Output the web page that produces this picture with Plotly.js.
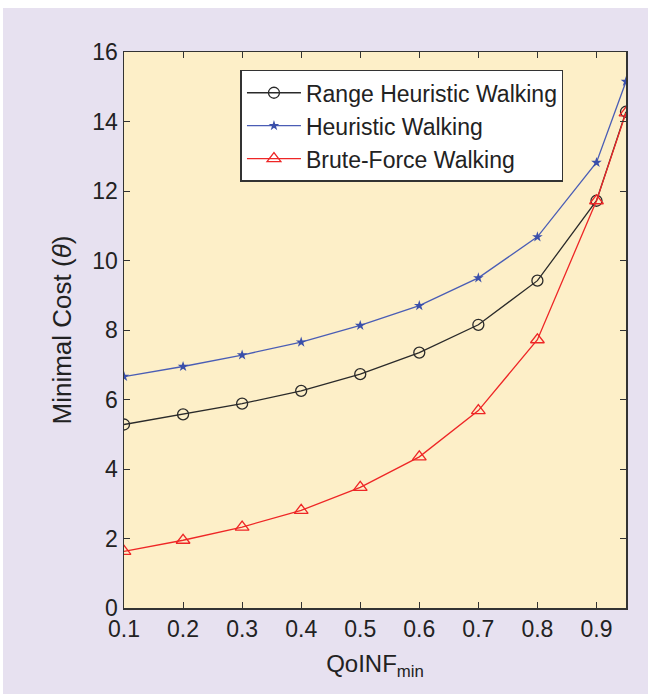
<!DOCTYPE html>
<html><head><meta charset="utf-8">
<script src="https://cdn.plot.ly/plotly-3.0.1.min.js"></script>
<style>
html,body{margin:0;padding:0;background:#ffffff;}
#bg{position:absolute;left:3px;top:8px;width:645px;height:686px;background:#E7E1F0;}
#chart{position:absolute;left:0;top:0;width:648px;height:694px;}
</style></head>
<body><div id="bg"></div><div id="chart"></div>
<script>
const qoinf = [0.1,0.2,0.3,0.4,0.5,0.6,0.7,0.8,0.9,0.95];
const rangeHeuristic = [5.28,5.57,5.88,6.25,6.73,7.35,8.15,9.42,11.72,14.28];
const heuristic = [6.66,6.95,7.28,7.65,8.13,8.70,9.50,10.68,12.82,15.15];
const bruteForce = [1.63,1.95,2.33,2.81,3.47,4.35,5.68,7.72,11.72,14.25];
const seriesNames = ['Range Heuristic Walking','Heuristic Walking','Brute-Force Walking'];
const xTicks = [0.1,0.2,0.3,0.4,0.5,0.6,0.7,0.8,0.9];
const yTicks = [0,2,4,6,8,10,12,14,16];

const traces = [
 {x:qoinf,y:rangeHeuristic,name:seriesNames[0],mode:'lines+markers',
  line:{color:'#2a2a2a',width:1.3},
  marker:{symbol:'circle-open',size:11,color:'#2a2a2a',line:{width:1.3}}},
 {x:qoinf,y:heuristic,name:seriesNames[1],mode:'lines+markers',
  line:{color:'#4A5DB5',width:1.3},
  marker:{symbol:'star',size:8,color:'#3A4FAA',line:{width:0}}},
 {x:qoinf,y:bruteForce,name:seriesNames[2],mode:'lines+markers',
  line:{color:'#EE2626',width:1.3},
  marker:{symbol:'triangle-up-open',size:12,color:'#EE2626',line:{width:1.3}}}
];
const fam = 'Liberation Sans, Arial, sans-serif';
const tickF = {family:fam,size:23,color:'#222'};
const layout = {
 width:648,height:694,
 margin:{l:124,r:22,t:52,b:86},
 paper_bgcolor:'rgba(0,0,0,0)',plot_bgcolor:'#FDEFC8',
 font:tickF,showlegend:true,
 xaxis:{range:[0.1,0.95],tickvals:xTicks,ticktext:xTicks.map(v=>v.toFixed(1)),
   ticks:'inside',ticklen:6,tickcolor:'#333',showline:true,linecolor:'#333',linewidth:1.5,
   mirror:'ticks',showgrid:false,zeroline:false,tickfont:tickF,
   title:{text:'QoINF<sub>min</sub>',font:{family:fam,size:24,color:'#222'},standoff:14}},
 yaxis:{range:[0,16],tickvals:yTicks,
   ticks:'inside',ticklen:6,tickcolor:'#333',showline:true,linecolor:'#333',linewidth:1.5,
   mirror:'ticks',showgrid:false,zeroline:false,tickfont:tickF,
   title:{text:'Minimal Cost (<i>θ</i>)',font:{family:fam,size:26,color:'#222'},standoff:13}},
 legend:{x:0.232,y:0.968,xanchor:'left',yanchor:'top',bgcolor:'#ffffff',
   bordercolor:'#333',borderwidth:1.5,font:{family:fam,size:23,color:'#222'},
   tracegroupgap:0,itemwidth:54}
};
Plotly.newPlot('chart',traces,layout,{displayModeBar:false,staticPlot:true});
</script></body></html>
